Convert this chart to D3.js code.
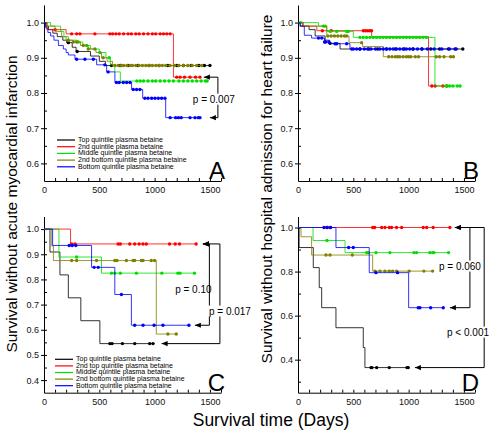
<!DOCTYPE html>
<html><head><meta charset="utf-8">
<script src="https://cdn.jsdelivr.net/npm/d3@7"></script>
<style>body{margin:0;background:#fff} text{font-family:"Liberation Sans",Arial,Helvetica,sans-serif}</style>
</head><body><svg id="c" width="497" height="437"></svg>
<script>
// ---------- labels ----------
const legendA = ["Top quintile plasma betaine","2nd quintile plasma betaine","Middle quintile plasma betaine","2nd bottom quintile plasma betaine","Bottom quintile plasma betaine"];
const legendC = ["Top quintile plasma betaine","2nd top quintile plasma betaine","Middle quintile plasma betaine","2nd bottom quintile plasma betaine","Bottom quintile plasma betaine"];
const xTickLabels = [0,500,1000,1500];
const yTicksAB = [0.6,0.7,0.8,0.9,1.0];
const yTicksC = [0.4,0.5,0.6,0.7,0.8,0.9,1.0];
const yTicksD = [0.4,0.6,0.8,1.0];
const pLabels = ["p = 0.007","p = 0.10","p = 0.017","p = 0.060","p < 0.001"];

// ---------- Panel A: [day, survival] change points (last = end of follow-up) ----------
const A_top  = [[0,1],[15,0.99],[40,0.98],[80,0.97],[120,0.96],[170,0.95],[205,0.943],[255,0.93],[290,0.918],[420,0.905],[500,0.89],[555,0.878],[1500,0.878]];
const A_top_cens = [220,300,610,690,760,850,950,1040,1120,1200,1260,1330,1400,1450,1500];
const A_2nd  = [[0,1],[25,0.98],[200,0.968],[1170,0.845],[1410,0.845]];
const A_2nd_cens = [100,250,295,325,460,595,620,650,680,720,760,790,830,860,900,940,980,1010,1050,1080,1110,1140,1200,1230,1270,1320,1370,1410];
const A_mid  = [[0,1],[60,0.99],[150,0.975],[180,0.96],[220,0.95],[300,0.945],[350,0.935],[420,0.925],[500,0.915],[560,0.9],[600,0.88],[640,0.86],[690,0.834],[1475,0.834]];
const A_mid_cens = [310,385,505,590,840,870,900,940,980,1010,1050,1090,1130,1170,1220,1260,1300,1340,1380,1420,1460,1475];
const A_2bot = [[0,1],[30,0.99],[100,0.975],[160,0.96],[200,0.95],[260,0.945],[330,0.935],[400,0.925],[470,0.915],[520,0.9],[570,0.89],[620,0.878],[1425,0.878]];
const A_2bot_cens = [220,265,295,355,400,460,535,640,670,700,720,750,780,800,830,860,890,920,950,980,1010,1040,1070,1100,1140,1180,1220,1260,1300,1340,1380,1425];
const A_bot  = [[0,1],[15,0.985],[35,0.972],[60,0.962],[90,0.95],[130,0.935],[175,0.925],[200,0.915],[220,0.908],[280,0.896],[476,0.88],[566,0.86],[641,0.83],[792,0.81],[892,0.785],[1100,0.73],[1410,0.73]];
const A_bot_cens = [295,370,446,550,580,655,680,717,747,777,807,837,867,912,940,973,1003,1033,1063,1093,1140,1190,1215,1240,1320,1365,1395,1410];

// ---------- Panel B ----------
const B_top  = [[0,1],[20,0.99],[100,0.98],[155,0.962],[245,0.95],[285,0.941],[380,0.925],[1490,0.925]];
const B_top_cens = [290,560,640,720,800,880,960,1040,1120,1200,1280,1360,1420,1490];
const B_2nd  = [[0,1],[40,0.99],[170,0.977],[666,0.96],[1180,0.82],[1345,0.82]];
const B_2nd_cens = [220,300,590,610,630,650,665,1210,1240,1310,1345];
const B_mid  = [[0,1],[185,0.99],[260,0.975],[500,0.958],[1238,0.82],[1465,0.82]];
const B_mid_cens = [25,230,245,290,350,440,455,560,590,620,650,680,710,740,770,800,830,860,890,920,950,980,1010,1040,1070,1100,1130,1160,1340,1370,1400,1440,1465];
const B_2bot = [[0,1],[50,0.99],[260,0.962],[461,0.943],[584,0.932],[771,0.903],[1405,0.903]];
const B_2bot_cens = [270,300,330,360,390,420,440,575,820,850,880,900,920,950,980,1000,1020,1060,1090,1250,1280,1320,1380,1405];
const B_bot  = [[0,1],[20,0.99],[57,0.964],[123,0.956],[240,0.945],[289,0.94],[470,0.925],[1450,0.925]];
const B_bot_cens = [185,215,240,250,280,335,350,440,485,500,530,560,600,630,660,700,740,770,800,830,860,890,920,950,980,1010,1040,1080,1120,1170,1230,1300,1370,1430];

// ---------- Panel C ----------
const C_top  = [[0,1],[54,0.909],[144,0.818],[220,0.727],[333,0.636],[505,0.545],[1000,0.545]];
const C_top_cens = [595,615,709,820,955,985];
const C_2nd  = [[0,1],[240,0.941],[1375,0.941]];
const C_2nd_cens = [250,280,670,690,775,820,860,895,925,1135,1186,1225,1375];
const C_mid  = [[0,1],[135,0.889],[520,0.825],[1360,0.825]];
const C_mid_cens = [295,610,640,690,835,1065,1210,1230,1360];
const C_2bot = [[0,1],[70,0.933],[85,0.875],[1015,0.583],[1210,0.583]];
const C_2bot_cens = [250,295,475,640,660,745,805,820,880,895,970,1000,1120,1195];
const C_bot  = [[0,1],[78,0.935],[430,0.848],[640,0.74],[790,0.618],[1310,0.618]];
const C_bot_cens = [228,255,288,453,490,700,820,895,995,1075,1310];

// ---------- Panel D ----------
const D_top  = [[0,1],[10,0.909],[138,0.818],[192,0.727],[214,0.636],[343,0.545],[590,0.455],[605,0.364],[997,0.364]];
const D_top_cens = [660,668,711,825,985,997];
const D_2nd  = [[0,1],[1373,1]];
const D_2nd_cens = [259,289,675,693,756,786,825,846,891,937,1132,1163,1222,1373];
const D_mid  = [[0,1],[136,0.941],[425,0.886],[1361,0.886]];
const D_mid_cens = [262,620,636,705,831,1048,1072,1192,1217,1229,1361];
const D_2bot = [[0,1],[27,0.958],[123,0.875],[675,0.802],[1217,0.802]];
const D_2bot_cens = [253,289,491,696,741,786,825,855,892,1005,1138,1217];
const D_bot  = [[0,1],[343,0.909],[644,0.795],[1000,0.636],[1313,0.636]];
const D_bot_cens = [235,265,295,458,500,705,900,1087,1102,1199,1313];

// ---------- drawing ----------
const colors = ["#000000","#ff0000","#00e000","#808000","#0000ff"];
const FONT = '"Liberation Sans",Arial,Helvetica,sans-serif';
const svg = d3.select("#c");

function survAt(steps,t){let s=1;for(const [d,v] of steps){if(d<=t)s=v;else break;}return s;}

const panels = [
  {id:"A",x0:44, yTop:5, yBot:181, dom:[0.55,1.05], major:yTicksAB, minor:[0.65,0.75,0.85,0.95],
   series:[[A_top,A_top_cens],[A_2nd,A_2nd_cens],[A_mid,A_mid_cens],[A_2bot,A_2bot_cens],[A_bot,A_bot_cens]]},
  {id:"B",x0:298,yTop:5, yBot:181, dom:[0.55,1.05], major:yTicksAB, minor:[0.65,0.75,0.85,0.95],
   series:[[B_top,B_top_cens],[B_2nd,B_2nd_cens],[B_mid,B_mid_cens],[B_2bot,B_2bot_cens],[B_bot,B_bot_cens]]},
  {id:"C",x0:44, yTop:216.5, yBot:392.7, dom:[0.35,1.05], major:yTicksC, minor:[0.45,0.55,0.65,0.75,0.85,0.95],
   series:[[C_top,C_top_cens],[C_2nd,C_2nd_cens],[C_mid,C_mid_cens],[C_2bot,C_2bot_cens],[C_bot,C_bot_cens]]},
  {id:"D",x0:298,yTop:216.5, yBot:392.7, dom:[0.25,1.05], major:yTicksD, minor:[0.3,0.5,0.7,0.9],
   series:[[D_top,D_top_cens],[D_2nd,D_2nd_cens],[D_mid,D_mid_cens],[D_2bot,D_2bot_cens],[D_bot,D_bot_cens]]}
];

function arrow(g,tx,ty){
  g.append("path").attr("d",`M${tx},${ty} L${tx+6},${ty-2.6} L${tx+6},${ty+2.6} Z`).attr("fill","#000");
}
function bracket(g,x,y,b){
  g.append("path").attr("d",`M${x(b.tipTop)},${y(b.yTop)} H${x(b.line)} V${y(b.yBot)} H${x(b.tipBot)}`)
    .attr("fill","none").attr("stroke","#000").attr("stroke-width",1);
  arrow(g,x(b.tipTop),y(b.yTop));
  arrow(g,x(b.tipBot),y(b.yBot));
}
function pLabel(g,x,y,txt,dx,dy,bg){
  const t=g.append("text").attr("x",x(dx)).attr("y",y(dy)).attr("text-anchor","middle")
    .attr("dominant-baseline","middle").attr("font-size",10).attr("font-family",FONT).text(txt);
  if(bg){const bb=t.node().getBBox();
    g.insert("rect",()=>t.node()).attr("x",bb.x-1).attr("y",bb.y).attr("width",bb.width+2).attr("height",bb.height).attr("fill","#fff");}
}

panels.forEach(p=>{
  const x=d3.scaleLinear().domain([0,1600]).range([p.x0,p.x0+177]);
  const y=d3.scaleLinear().domain(p.dom).range([p.yBot,p.yTop]);
  const g=svg.append("g");
  // y axis
  const ya=g.append("g").attr("transform",`translate(${p.x0},0)`)
    .call(d3.axisLeft(y).tickValues(p.major).tickFormat(d3.format(".1f")).tickSizeInner(3).tickSizeOuter(0).tickPadding(2));
  const yb=g.append("g").attr("transform",`translate(${p.x0},0)`)
    .call(d3.axisRight(y).tickValues(p.major.concat(p.minor)).tickSize(3).tickFormat(""));
  yb.select(".domain").remove();
  // x axis
  const xa=g.append("g").attr("transform",`translate(0,${p.yBot})`)
    .call(d3.axisBottom(x).tickValues(xTickLabels).tickFormat(d3.format("d")).tickSize(0).tickPadding(6).tickSizeOuter(0));
  const xb=g.append("g").attr("transform",`translate(0,${p.yBot})`)
    .call(d3.axisTop(x).tickValues(d3.range(0,1601,100)).tickSize(3).tickFormat(""));
  xb.select(".domain").remove();
  [ya,xa].forEach(a=>a.attr("font-size",9).attr("font-family",FONT).selectAll("text").attr("fill","#111"));
  // curves
  p.series.forEach((s,i)=>{
    const line=d3.line().x(d=>x(d[0])).y(d=>y(d[1])).curve(d3.curveStepAfter);
    g.append("path").attr("d",line(s[0])).attr("fill","none").attr("stroke",colors[i]).attr("stroke-width",1).attr("stroke-opacity",0.8);
    g.selectAll(null).data(s[1]).join("circle").attr("cx",d=>x(d)).attr("cy",d=>y(survAt(s[0],d)))
      .attr("r",1.7).attr("fill",colors[i]);
  });
  // panel letter
  g.append("text").attr("x",p.x0+181).attr("y",p.yBot-2).attr("text-anchor","end")
    .attr("font-size",24).attr("font-family",FONT).text(p.id);
  p.x=x; p.y=y; p.g=g;
});

// legends
function legend(labels,lx,ly,dy){
  const g=svg.append("g");
  labels.forEach((l,i)=>{
    g.append("line").attr("x1",lx).attr("x2",lx+18).attr("y1",ly+i*dy).attr("y2",ly+i*dy).attr("stroke",colors[i]).attr("stroke-width",1.2);
    g.append("text").attr("x",lx+21).attr("y",ly+i*dy).attr("dominant-baseline","middle")
      .attr("font-size",7).attr("font-family",FONT).text(l);
  });
}
legend(legendA,57,140,6.7);
legend(legendC,55,359.3,6.6);

// brackets and p values
{const p=panels[0];
 bracket(p.g,p.x,p.y,{tipTop:1445,line:1572,tipBot:1500,yTop:survAt(A_2nd,1e9),yBot:survAt(A_bot,1e9)});
 pLabel(p.g,p.x,p.y,pLabels[0],1535,0.78,true);}
{const p=panels[2];
 bracket(p.g,p.x,p.y,{tipTop:1436,line:1590,tipBot:1063,yTop:survAt(C_2nd,1e9),yBot:survAt(C_top,1e9)});
 bracket(p.g,p.x,p.y,{tipTop:1436,line:1495,tipBot:1364,yTop:survAt(C_2nd,1e9),yBot:survAt(C_bot,1e9)});
 pLabel(p.g,p.x,p.y,pLabels[1],1350,0.7575,false);
 pLabel(p.g,p.x,p.y,pLabels[2],1681,0.671,true);}
{const p=panels[3];
 bracket(p.g,p.x,p.y,{tipTop:1418,line:1683,tipBot:1057,yTop:survAt(D_2nd,1e9),yBot:survAt(D_top,1e9)});
 bracket(p.g,p.x,p.y,{tipTop:1418,line:1554,tipBot:1373,yTop:survAt(D_2nd,1e9),yBot:survAt(D_bot,1e9)});
 pLabel(p.g,p.x,p.y,pLabels[3],1464,0.821,true);
 pLabel(p.g,p.x,p.y,pLabels[4],1537,0.521,true);}

// axis titles
svg.append("text").attr("transform","translate(17,204) rotate(-90)").attr("text-anchor","middle")
  .attr("font-size",15.5).attr("font-family",FONT).text("Survival without acute myocardial infarction");
svg.append("text").attr("transform","translate(272,189) rotate(-90)").attr("text-anchor","middle")
  .attr("font-size",15.5).attr("font-family",FONT).text("Survival without hospital admission for heart failure");
svg.append("text").attr("x",271).attr("y",426).attr("text-anchor","middle")
  .attr("font-size",17.5).attr("font-family",FONT).text("Survival time (Days)");
</script></body></html>
